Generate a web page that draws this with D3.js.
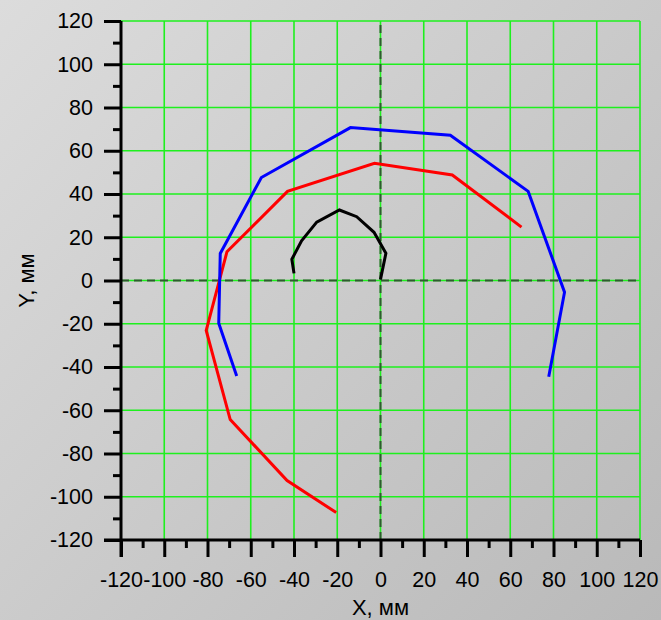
<!DOCTYPE html>
<html>
<head>
<meta charset="utf-8">
<script src="https://cdn.jsdelivr.net/npm/d3@7"></script>
<style>
  html, body { margin: 0; padding: 0; overflow: hidden; }
  svg { display: block; }
  text { font-family: "Liberation Sans", Arial, sans-serif; fill: #000; }
</style>
</head>
<body>
<svg id="chart" width="661" height="620"></svg>
<script>
// Trajectories in the X–Y plane, millimetres
const blackX = [-40, -41, -36.5, -29.5, -19, -11, -3, 2.5, 0];
const blackY = [3.3, 9.8, 18.4, 27, 32.6, 29.5, 22.3, 12.6, 0.5];

const redX = [65.2, 33.2, -2.8, -43, -71, -80.6, -69.5, -43.2, -20.5];
const redY = [24.7, 48.8, 54.2, 41.2, 13.3, -23.1, -64.3, -92.5, -107.3];

const blueX = [77.8, 85.1, 68.3, 32.3, -13.9, -55.1, -74.1, -74.8, -66.5];
const blueY = [-44.5, -5.4, 41.2, 67.2, 70.7, 47.6, 12.5, -19.8, -44.2];

const majorTicks = [-120, -100, -80, -60, -40, -20, 0, 20, 40, 60, 80, 100, 120];
const minorTicks = [-110, -90, -70, -50, -30, -10, 10, 30, 50, 70, 90, 110];
const gridTicks = [-100, -80, -60, -40, -20, 0, 20, 40, 60, 80, 100, 120];

const xTitle = "X, мм";
const yTitle = "Y, мм";

(function draw() {
  const svg = d3.select("#chart");
  const W = 661, H = 620;
  const plotLeft = 121, plotRight = 640, plotTop = 21, plotBottom = 540;
  const majorLen = 17, minorLen = 8;
  const tickFont = 21.5;

  const x = d3.scaleLinear().domain([-120, 120]).range([plotLeft, plotRight]);
  const y = d3.scaleLinear().domain([-120, 120]).range([plotBottom, plotTop]);

  // Background: soft diagonal grey gradient
  const defs = svg.append("defs");
  const grad = defs.append("linearGradient")
    .attr("id", "bg").attr("gradientUnits", "userSpaceOnUse")
    .attr("x1", 0).attr("y1", 0).attr("x2", W).attr("y2", H);
  grad.append("stop").attr("offset", 0).attr("stop-color", "#dcdcdc");
  grad.append("stop").attr("offset", 1).attr("stop-color", "#b9b9b9");
  svg.append("rect").attr("width", W).attr("height", H).attr("fill", "url(#bg)");

  // Green grid
  const grid = svg.append("g").attr("stroke", "#1ef01e").attr("stroke-width", 1.6);
  grid.selectAll("line.gx").data(gridTicks).join("line").attr("class", "gx")
    .attr("x1", d => x(d)).attr("x2", d => x(d))
    .attr("y1", y(-120)).attr("y2", y(120));
  grid.selectAll("line.gy").data(gridTicks).join("line").attr("class", "gy")
    .attr("y1", d => y(d)).attr("y2", d => y(d))
    .attr("x1", x(-120)).attr("x2", x(120));

  // Dashed zero lines
  const zero = svg.append("g").attr("stroke", "#2f5a2f").attr("stroke-width", 2)
    .attr("stroke-dasharray", "8,5");
  zero.append("line").attr("x1", x(-120)).attr("x2", x(120)).attr("y1", y(0)).attr("y2", y(0));
  zero.append("line").attr("x1", x(0)).attr("x2", x(0)).attr("y1", y(-120)).attr("y2", y(120));

  // Curves
  const line = d3.line().x(d => x(d[0])).y(d => y(d[1]));
  const series = [
    { xs: redX, ys: redY, color: "#ff0000" },
    { xs: blueX, ys: blueY, color: "#0000ff" },
    { xs: blackX, ys: blackY, color: "#000000" }
  ];
  svg.append("g").selectAll("path").data(series).join("path")
    .attr("d", s => line(s.xs.map((v, i) => [v, s.ys[i]])))
    .attr("fill", "none")
    .attr("stroke", s => s.color)
    .attr("stroke-width", 3)
    .attr("stroke-linejoin", "miter");

  // Axes (labels use a plain hyphen-minus)
  const fmt = d => String(d);
  function styleAxis(g) {
    g.select(".domain").remove();
    g.selectAll(".tick line").attr("stroke", "#000").attr("stroke-width", 3);
    g.selectAll(".tick text").attr("font-size", tickFont).attr("fill", "#000")
      .attr("font-family", "'Liberation Sans', Arial, sans-serif");
  }

  const xMinor = svg.append("g").attr("transform", `translate(0,${plotBottom})`)
    .call(d3.axisBottom(x).tickValues(minorTicks).tickSize(minorLen).tickFormat(""));
  styleAxis(xMinor);
  const xMajor = svg.append("g").attr("transform", `translate(0,${plotBottom})`)
    .call(d3.axisBottom(x).tickValues(majorTicks).tickSize(majorLen).tickPadding(15).tickFormat(fmt));
  styleAxis(xMajor);

  const yMinor = svg.append("g").attr("transform", `translate(${plotLeft},0)`)
    .call(d3.axisLeft(y).tickValues(minorTicks).tickSize(minorLen).tickFormat(""));
  styleAxis(yMinor);
  const yMajor = svg.append("g").attr("transform", `translate(${plotLeft},0)`)
    .call(d3.axisLeft(y).tickValues(majorTicks).tickSize(majorLen).tickPadding(11).tickFormat(fmt));
  styleAxis(yMajor);

  // Axis baselines, extended by the tick length past the corner
  svg.append("line").attr("x1", plotLeft - majorLen).attr("x2", plotRight)
    .attr("y1", plotBottom).attr("y2", plotBottom).attr("stroke", "#000").attr("stroke-width", 3);
  svg.append("line").attr("x1", plotLeft).attr("x2", plotLeft)
    .attr("y1", plotTop).attr("y2", plotBottom + majorLen).attr("stroke", "#000").attr("stroke-width", 3);

  // Axis titles
  svg.append("text").attr("x", x(0)).attr("y", 615).attr("text-anchor", "middle")
    .attr("font-size", 22).text(xTitle);
  svg.append("text").attr("transform", `translate(34,${y(0)}) rotate(-90)`)
    .attr("text-anchor", "middle").attr("font-size", 22).text(yTitle);
})();
</script>
</body>
</html>
